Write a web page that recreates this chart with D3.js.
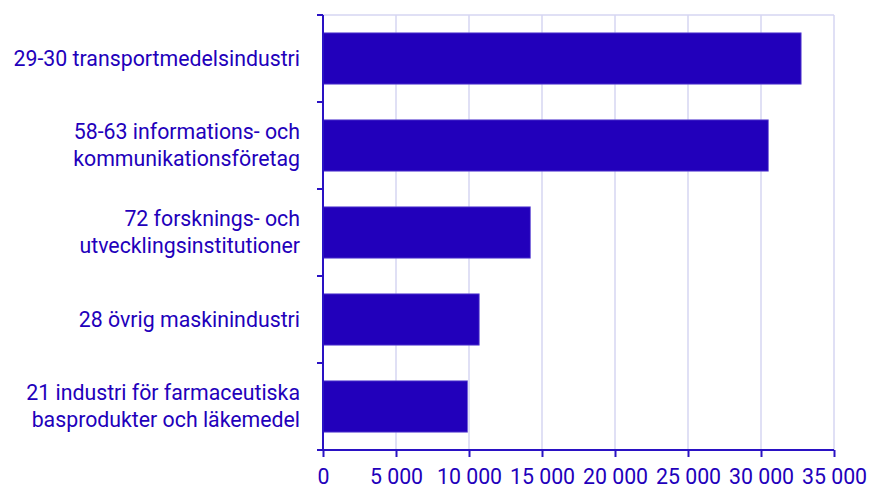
<!DOCTYPE html>
<html lang="sv">
<head>
<meta charset="utf-8" />
<script src="https://d3js.org/d3.v7.min.js"></script>
<style>
  body { margin: 0; background: #fff; }
  text { font-family: Roboto, "Noto Sans", sans-serif; }
</style>
</head>
<body>
<script>
// categories (each label split into lines) and values
const categories = [
  ["29-30 transportmedelsindustri"],
  ["58-63 informations- och", "kommunikationsföretag"],
  ["72 forsknings- och", "utvecklingsinstitutioner"],
  ["28 övrig maskinindustri"],
  ["21 industri för farmaceutiska", "basprodukter och läkemedel"]
];
const values = [32750, 30500, 14200, 10700, 9900];
const xTicks = [0, 5000, 10000, 15000, 20000, 25000, 30000, 35000];

const width = 870, height = 489;
const plotLeft = 323, plotRight = 834, plotTop = 15, plotBottom = 450;
const ink = "#2200bb";
const fontSize = 21.3;

const svg = d3.select("body").append("svg")
  .attr("width", width).attr("height", height);

const x = d3.scaleLinear().domain([0, 35000]).range([plotLeft, plotRight]);
const y = d3.scaleBand().domain(d3.range(categories.length))
  .range([plotTop, plotBottom]).paddingInner(0.41).paddingOuter(0.205);
const yEdges = d3.scaleLinear().domain([0, categories.length]).range([plotTop, plotBottom]);

// gridlines
svg.append("g").selectAll("line").data(xTicks.slice(1)).join("line")
  .attr("x1", d => x(d)).attr("x2", d => x(d))
  .attr("y1", plotTop).attr("y2", plotBottom)
  .attr("stroke", "#d6d6f2").attr("stroke-width", 1.5);
svg.append("line")
  .attr("x1", plotLeft).attr("x2", plotRight).attr("y1", plotTop).attr("y2", plotTop)
  .attr("stroke", "#d6d6f2").attr("stroke-width", 1.5);

// bars
svg.append("g").selectAll("rect").data(values).join("rect")
  .attr("x", x(0))
  .attr("y", (d, i) => y(i))
  .attr("width", d => x(d) - x(0))
  .attr("height", y.bandwidth())
  .attr("fill", "#2200bb")
  .attr("stroke", "#6f5ad8").attr("stroke-width", 0.8);

// x axis
const xAxis = svg.append("g")
  .attr("transform", `translate(0,${plotBottom})`)
  .call(d3.axisBottom(x).tickValues(xTicks).tickSize(7).tickPadding(12)
    .tickFormat(d => d3.format(",")(d).replace(/,/g, " ")));
xAxis.select(".domain").attr("stroke", "#2a12c4").attr("stroke-width", 2)
  .attr("d", `M${plotLeft - 6},0H${plotRight}`);
xAxis.selectAll(".tick line").attr("stroke", "#2a12c4").attr("stroke-width", 2);
xAxis.selectAll(".tick text").attr("fill", ink).attr("font-size", fontSize);

// y axis line and separators between categories
svg.append("line")
  .attr("x1", plotLeft).attr("x2", plotLeft).attr("y1", plotTop).attr("y2", plotBottom)
  .attr("stroke", "#2a12c4").attr("stroke-width", 2);
svg.append("g").selectAll("line").data(d3.range(categories.length)).join("line")
  .attr("x1", plotLeft - 6).attr("x2", plotLeft)
  .attr("y1", d => yEdges(d)).attr("y2", d => yEdges(d))
  .attr("stroke", "#2a12c4").attr("stroke-width", 2);

// category labels
const lineH = 27;
svg.append("g").selectAll("text").data(categories).join("text")
  .attr("text-anchor", "end")
  .attr("font-size", fontSize)
  .attr("fill", ink)
  .each(function (lines, i) {
    const cy = y(i) + y.bandwidth() / 2;
    const y0 = cy - (lines.length - 1) * lineH / 2;
    d3.select(this).selectAll("tspan").data(lines).join("tspan")
      .attr("x", 300)
      .attr("y", (d, j) => y0 + j * lineH)
      .attr("dy", "0.35em")
      .text(d => d);
  });
</script>
</body>
</html>
